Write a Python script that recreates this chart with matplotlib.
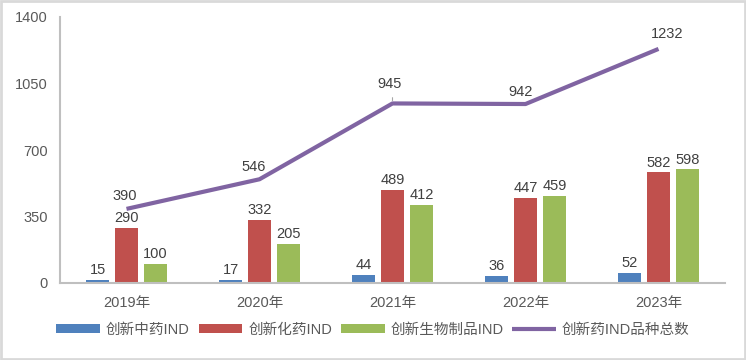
import matplotlib
matplotlib.use("Agg")
import matplotlib.pyplot as plt
from matplotlib.patches import Rectangle
import numpy as np

plt.rcParams['font.family'] = ['Liberation Sans', 'Noto Sans CJK SC', 'DejaVu Sans']

categories = ["2019年", "2020年", "2021年", "2022年", "2023年"]
tcm = [15, 17, 44, 36, 52]
chem = [290, 332, 489, 447, 582]
bio = [100, 205, 412, 459, 598]
total = [390, 546, 945, 942, 1232]
series_names = ["创新中药IND", "创新化药IND", "创新生物制品IND", "创新药IND品种总数"]
yticks = [0, 350, 700, 1050, 1400]

colors = ["#4f81bd", "#c0504d", "#9bbb59", "#8064a2"]
text_color = "#404040"
tick_color = "#595959"

fig = plt.figure(figsize=(7.46, 3.6), dpi=100)
ax = fig.add_axes([60/746, 1-283/360, 665/746, 266/360])

x = np.arange(len(categories))
w = 0.173
step = 0.218
bars = []
for i, (vals, c) in enumerate(zip([tcm, chem, bio], colors[:3])):
    b = ax.bar(x + (i-1)*step, vals, width=w, color=c, label=series_names[i], zorder=2)
    bars.append(b)
    for xi, v in zip(x + (i-1)*step, vals):
        ax.annotate(str(v), (xi, v), xytext=(0, 2), textcoords="offset points",
                    ha="center", va="bottom", fontsize=10.5, color=text_color)

line, = ax.plot(x, total, color=colors[3], lw=3, label=series_names[3], zorder=3,
                solid_capstyle="butt")
offsets = [(-1, 4), (-4.5, 4), (-2, 9), (-3.5, 3.5), (6, 5.5)]
for xi, v, off in zip(x, total, offsets):
    ax.annotate(str(v), (xi, v), xytext=off, textcoords="offset points",
                ha="center", va="bottom", fontsize=10.5, color=text_color)
# leader line for 945
ax.annotate("", (x[2], total[2]), xytext=(x[2], total[2] + 45),
            arrowprops=dict(arrowstyle="-", color="#a6a6a6", lw=0.8))

ax.set_xlim(-0.5, len(categories) - 0.5)
ax.set_ylim(0, 1400)
ax.set_yticks(yticks)
ax.set_xticks(x)
ax.set_xticklabels(categories)
ax.tick_params(axis="both", length=0, labelsize=10.5, colors=tick_color)
ax.tick_params(axis="y", pad=9)
ax.tick_params(axis="x", pad=9)
for s in ["top", "right"]:
    ax.spines[s].set_visible(False)
for s in ["left", "bottom"]:
    ax.spines[s].set_color("#bfbfbf")
    ax.spines[s].set_linewidth(1.5)

handles = bars + [line]
leg = fig.legend(handles, series_names, loc="center", bbox_to_anchor=(0.5, 1-330/360),
                 ncol=4, frameon=False, fontsize=10.5, handlelength=3.0, handleheight=0.6,
                 handletextpad=0.4, columnspacing=0.6)
for t in leg.get_texts():
    t.set_color(tick_color)

fig.patches.append(Rectangle((0.002, 0.003), 0.996, 0.994, transform=fig.transFigure,
                             fill=False, edgecolor="#d9d9d9", lw=2))

fig.savefig("out.png", dpi=100)
